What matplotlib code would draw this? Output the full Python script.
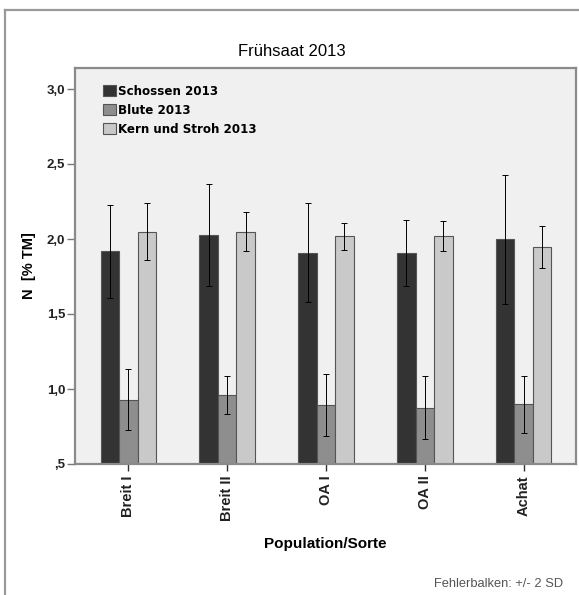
import matplotlib.pyplot as plt
from matplotlib.lines import Line2D
import numpy as np

# values
sorten = ["Breit I", "Breit II", "OA I", "OA II", "Achat"]
serien = ["Schossen 2013", "Blute 2013", "Kern und Stroh 2013"]
schossen = [1.92, 2.03, 1.91, 1.91, 2.00]
blute = [0.93, 0.96, 0.895, 0.875, 0.90]
kern = [2.05, 2.05, 2.02, 2.02, 1.95]
schossen_err = [0.31, 0.34, 0.33, 0.22, 0.43]
blute_err = [0.205, 0.125, 0.205, 0.21, 0.19]
kern_err = [0.19, 0.13, 0.09, 0.10, 0.14]
yticks = [0.5, 1.0, 1.5, 2.0, 2.5, 3.0]
ytick_labels = [",5", "1,0", "1,5", "2,0", "2,5", "3,0"]

colors = ["#333333", "#8e8e8e", "#c9c9c9"]
W, H = 579, 595

plt.rcParams['font.family'] = ['Liberation Sans', 'DejaVu Sans']
fig = plt.figure(figsize=(W / 100, H / 100), dpi=100)
ax = fig.add_axes([75 / W, 1 - 464 / H, (576 - 75) / W, (464 - 68) / H])
ax.set_facecolor("#f0f0f0")

x = np.arange(len(sorten))
bw = 0.187
means = [schossen, blute, kern]
errs = [schossen_err, blute_err, kern_err]
for i, (m, e) in enumerate(zip(means, errs)):
    ax.bar(x + (i - 1) * bw, m, width=bw, color=colors[i], edgecolor="#555555",
           linewidth=0.8, label=serien[i], zorder=2)
    ax.errorbar(x + (i - 1) * bw, m, yerr=e, fmt="none", ecolor="black",
                elinewidth=0.7, capsize=2, capthick=0.7, zorder=3)

ax.set_xlim(-0.54, 4.53)
ax.set_ylim(0.5, 3.14)
ax.set_yticks(yticks)
ax.set_yticklabels(ytick_labels, fontweight="bold", fontsize=9.5, color="#222222")
ax.set_xticks(x)
ax.set_xticklabels(sorten, rotation=90, fontweight="bold", fontsize=10.5, color="#222222")
ax.tick_params(axis="y", length=6, width=1, color="#777777", pad=1)
ax.tick_params(axis="x", length=5, width=1, color="#333333", pad=3)
for s in ax.spines.values():
    s.set_color("#8a8a8a")
    s.set_linewidth(1.6)

ax.set_ylabel("N  [% TM]", fontweight="bold", fontsize=10.5, labelpad=8)
ax.set_xlabel("Population/Sorte", fontweight="bold", fontsize=11, labelpad=12)

leg = ax.legend(loc="upper left", bbox_to_anchor=(0.055, 0.958), frameon=False,
                handlelength=1.1, handleheight=1.1, handletextpad=0.2,
                labelspacing=0.5, borderaxespad=0, borderpad=0,
                prop={"family": "DejaVu Sans", "weight": "bold", "size": 8.6})

fig.text(292 / W, 1 - 51 / H, "Frühsaat 2013", ha="center", va="center", fontsize=12)
fig.text(563 / W, 1 - 584 / H, "Fehlerbalken: +/- 2 SD", ha="right", va="center",
         fontsize=9.3, color="#555555")

# outer chart frame
fig.add_artist(Line2D([5 / W, 1], [1 - 10 / H, 1 - 10 / H], color="#999999", lw=1.6))
fig.add_artist(Line2D([5 / W, 5 / W], [0, 1 - 10 / H], color="#999999", lw=1.6))

fig.savefig("out.png", dpi=100)
